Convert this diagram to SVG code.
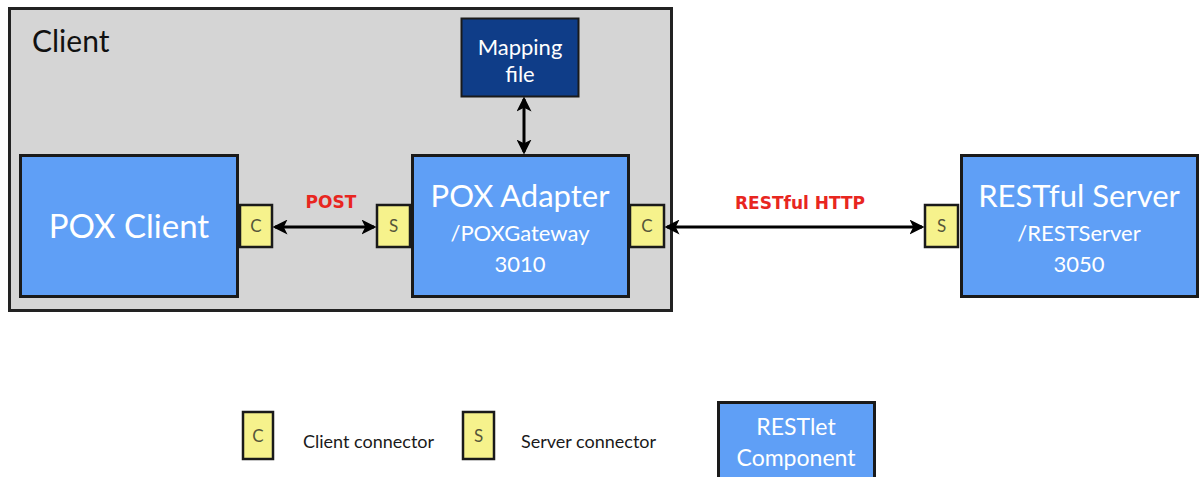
<svg xmlns="http://www.w3.org/2000/svg" width="1200" height="477" viewBox="0 0 1200 477">
<defs>
<style>
.comp{fill:#5f9ff6;stroke:#1a1a1a;stroke-width:3}
.conn{fill:#f6f28c;stroke:#1a1a1a;stroke-width:2.5}
.ct{font-family:Lato,"Open Sans",sans-serif;fill:#55553a;font-size:17px;text-anchor:middle}
.wt{font-family:Lato,"Open Sans",sans-serif;fill:#ffffff;text-anchor:middle}
.lbl{font-family:"DejaVu Sans",sans-serif;font-weight:bold;fill:#e8261f;font-size:17px;text-anchor:middle}
.leg{font-family:Lato,"Open Sans",sans-serif;fill:#1a1a1a;font-size:18px}
.arr{stroke:#000;stroke-width:3;fill:none;marker-start:url(#ah);marker-end:url(#ah)}
</style>
<marker id="ah" viewBox="0 0 12 12" refX="10" refY="6" markerWidth="5" markerHeight="5" orient="auto-start-reverse" markerUnits="strokeWidth">
<path d="M0,0 L12,6 L0,12 L3,6 Z" fill="#000"/>
</marker>
</defs>
<rect width="1200" height="477" fill="#ffffff"/>
<g id="client-container">
<rect x="9.5" y="8.5" width="662" height="302" fill="#d5d5d5" stroke="#222" stroke-width="3"/>
<text x="32" y="52" style="font-family:Lato,'Open Sans',sans-serif;font-size:30px;fill:#111">Client</text>
</g>
<g id="pox-client">
<rect class="comp" x="20.5" y="155.5" width="217" height="141"/>
<text class="wt" x="129" y="238" font-size="33">POX Client</text>
</g>
<g id="pox-client-c">
<rect class="conn" x="240" y="205" width="32" height="42"/>
<text class="ct" x="256" y="232">C</text>
</g>
<g id="mapping-file">
<rect x="461.5" y="18.5" width="117" height="78" fill="#0f3d88" stroke="#1a1a1a" stroke-width="2"/>
<text class="wt" x="520" y="55" font-size="22">Mapping</text>
<text class="wt" x="520" y="82" font-size="22">file</text>
</g>
<g id="pox-adapter">
<rect class="comp" x="412.5" y="155.5" width="216" height="141"/>
<text class="wt" x="520" y="207" font-size="31">POX Adapter</text>
<text class="wt" x="520" y="241" font-size="22">/POXGateway</text>
<text class="wt" x="520" y="272" font-size="22">3010</text>
</g>
<g id="pox-adapter-s">
<rect class="conn" x="377" y="205" width="33" height="42"/>
<text class="ct" x="393.5" y="232">S</text>
</g>
<g id="pox-adapter-c">
<rect class="conn" x="630" y="205" width="34" height="42"/>
<text class="ct" x="647" y="232">C</text>
</g>
<g id="restful-server">
<rect class="comp" x="961.5" y="155.5" width="236" height="141"/>
<text class="wt" x="1079" y="207" font-size="31">RESTful Server</text>
<text class="wt" x="1079" y="241" font-size="22">/RESTServer</text>
<text class="wt" x="1079" y="272" font-size="22">3050</text>
</g>
<g id="restful-server-s">
<rect class="conn" x="925" y="205" width="33" height="42"/>
<text class="ct" x="941.5" y="232">S</text>
</g>
<g id="connectors">
<line class="arr" x1="275" y1="227" x2="374" y2="227"/>
<line class="arr" x1="524" y1="99" x2="524" y2="152"/>
<line class="arr" x1="667" y1="227" x2="922" y2="227"/>
<text class="lbl" x="331" y="208">POST</text>
<text class="lbl" x="800" y="209">RESTful HTTP</text>
</g>
<g id="legend">
<rect class="conn" x="243" y="412" width="30" height="47"/>
<text class="ct" x="258" y="442">C</text>
<text class="leg" x="303" y="448">Client connector</text>
<rect class="conn" x="463" y="412" width="31" height="47"/>
<text class="ct" x="478.5" y="442">S</text>
<text class="leg" x="521" y="448">Server connector</text>
<rect class="comp" x="718.5" y="402.5" width="156" height="76"/>
<text class="wt" x="796" y="435" font-size="23">RESTlet</text>
<text class="wt" x="796" y="466" font-size="23">Component</text>
</g>
</svg>
